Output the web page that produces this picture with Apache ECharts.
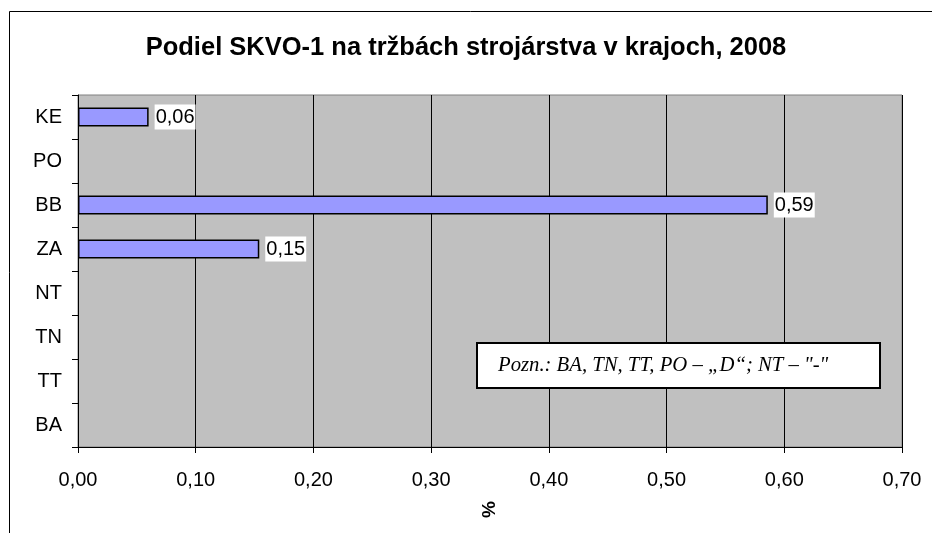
<!DOCTYPE html>
<html>
<head>
<meta charset="utf-8">
<script src="https://cdn.jsdelivr.net/npm/echarts@6/dist/echarts.min.js"></script>
<style>
  html, body { margin: 0; padding: 0; background: #fff; }
  #chart { width: 932px; height: 533px; }
</style>
</head>
<body>
<div id="chart"></div>
<script>
// kraje zdola nahor
var kraje = ['BA', 'TT', 'TN', 'NT', 'ZA', 'BB', 'PO', 'KE'];
var podiel = [null, null, null, null, 0.154, 0.586, null, 0.06];
var osX = { min: 0, max: 0.7, krok: 0.1 };
var poznamka = 'Pozn.: BA, TN, TT, PO \u2013 \u201eD\u201c; NT \u2013 "-"';

var font = 'Arial, "Liberation Sans", sans-serif';
var chart = echarts.init(document.getElementById('chart'));

var option = {
    animation: false,
    backgroundColor: '#fff',
    title: {
        text: 'Podiel SKVO-1 na tržbách strojárstva v krajoch, 2008',
        left: 'center',
        top: 30,
        textStyle: { fontFamily: font, fontSize: 25.5, fontWeight: 'bold', color: '#000' }
    },
    grid: {
        left: 78, right: 30, top: 95, bottom: 86,
        show: true,
        backgroundColor: '#C0C0C0',
        borderColor: '#808080',
        borderWidth: 1
    },
    xAxis: {
        type: 'value',
        min: osX.min,
        max: osX.max,
        interval: osX.krok,
        name: '%',
        nameLocation: 'middle',
        nameGap: 54,
        nameRotate: 90,
        nameTextStyle: { fontFamily: font, fontSize: 19, fontWeight: 'bold', color: '#000' },
        axisLine: { show: true, lineStyle: { color: '#000', width: 1 } },
        axisTick: { show: true, length: 6, lineStyle: { color: '#000' } },
        axisLabel: {
            margin: 23,
            fontFamily: font, fontSize: 20, color: '#000',
            formatter: function (v) { return v.toFixed(2).replace('.', ','); }
        },
        splitLine: { show: true, lineStyle: { color: '#000', width: 1 } }
    },
    yAxis: {
        type: 'category',
        data: kraje,
        axisLine: { show: true, lineStyle: { color: '#000', width: 1 } },
        axisTick: { show: true, length: 6, lineStyle: { color: '#000' } },
        axisLabel: { margin: 16, fontFamily: font, fontSize: 20, color: '#000' },
        splitLine: { show: false }
    },
    series: [{
        type: 'bar',
        data: podiel,
        barWidth: 19,
        itemStyle: { color: '#9999FF', borderColor: '#000', borderWidth: 1.5 },
        label: {
            show: true,
            position: 'right',
            distance: 6,
            fontFamily: font, fontSize: 20, color: '#000',
            backgroundColor: '#fff',
            padding: [3, 1, 2, 1],
            formatter: function (p) { return p.value.toFixed(2).replace('.', ','); }
        }
    }],
    graphic: [
        // rám grafu
        {
            type: 'polyline',
            z: 100,
            shape: { points: [[932, 11.5], [9.5, 11.5], [9.5, 533]] },
            style: { stroke: '#000', lineWidth: 1, fill: null }
        },
        // poznámka
        {
            type: 'group',
            z: 100,
            left: 476, top: 342,
            children: [
                {
                    type: 'rect',
                    z: 100,
                    shape: { x: 0, y: 0, width: 403, height: 45 },
                    style: { fill: '#fff', stroke: '#000', lineWidth: 2 }
                },
                {
                    type: 'text',
                    z: 101,
                    x: 21, y: 23,
                    style: {
                        text: poznamka,
                        fontFamily: '"Times New Roman", "Liberation Serif", serif',
                        fontStyle: 'italic',
                        fontSize: 20.7,
                        fill: '#000',
                        verticalAlign: 'middle'
                    }
                }
            ]
        }
    ]
};

chart.setOption(option);
</script>
</body>
</html>
